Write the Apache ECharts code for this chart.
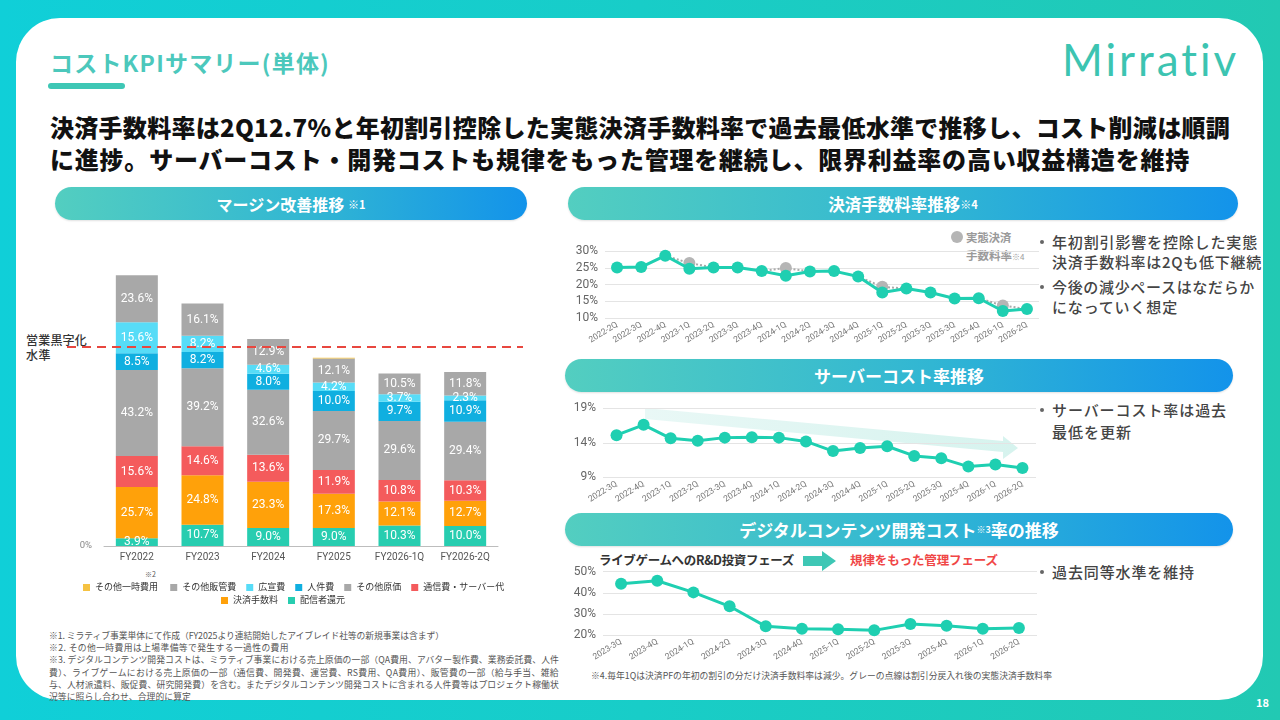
<!DOCTYPE html>
<html><head><meta charset="utf-8">
<script src="https://cdn.jsdelivr.net/npm/echarts@6/dist/echarts.min.js"></script>
<style>
html,body{margin:0;padding:0;width:1280px;height:720px;overflow:hidden;}
body{position:relative;background:linear-gradient(90deg,#10cfd8 0%,#18cdc8 50%,#22c9b3 100%);font-family:"Noto Sans CJK JP","Noto Sans",sans-serif;}
#card{position:absolute;left:16px;top:18px;width:1247px;height:682px;background:#fff;border-radius:44px;}
.t{position:absolute;white-space:nowrap;}
.banner{position:absolute;height:33px;border-radius:17px;background:linear-gradient(90deg,#53cec0 0%,#31b6d3 55%,#1393ea 100%);color:#fff;font-weight:700;display:flex;align-items:center;justify-content:center;box-shadow:0 1px 2px rgba(0,0,0,0.12);white-space:nowrap;}
.banner small{font-size:11px;font-weight:700;}
.dot{position:absolute;width:4px;height:4px;border-radius:2px;background:#666;}
#chart{position:absolute;left:0;top:0;width:1280px;height:720px;z-index:5;}
</style>
</head>
<body>
<div id="card"></div>
<div id="ul" style="position:absolute;left:48px;top:83px;width:77px;height:6px;border-radius:3px;background:#3ec7b5;"></div>

<div class="banner" style="left:55px;top:187px;width:472px;font-size:16px;">マージン改善推移&nbsp;<small>※1</small></div>
<div class="banner" style="left:568px;top:187px;width:670px;font-size:16.5px;">決済手数料率推移<small>※4</small></div>
<div class="banner" style="left:565px;top:359px;width:668px;font-size:17px;">サーバーコスト率推移</div>
<div class="banner" style="left:565px;top:513px;width:668px;font-size:17px;">デジタルコンテンツ開発コスト<small style="font-size:9px;">※3</small>率の推移</div>

<svg style="position:absolute;left:0;top:0;" width="1280" height="720">
  <defs><linearGradient id="ag" x1="0" x2="1" y1="0" y2="0"><stop offset="0" stop-color="#e9f8f6"/><stop offset="1" stop-color="#d6f3ee"/></linearGradient></defs>
  <polygon points="645,408 1003,441 1003,436 1018,448 1003,459 1003,452 645,419" fill="url(#ag)"/>
  <polygon points="803,556 822,556 822,551 836,561 822,571 822,566 803,566" fill="#3ec7b5"/>
</svg>
<div style="position:absolute;left:951px;top:231px;width:12px;height:12px;border-radius:6px;background:#b5b5b5;"></div>

<div id="chart"></div>

<script>
// ---------- data ----------
const barCategories = ['FY2022','FY2023','FY2024','FY2025','FY2026-1Q','FY2026-2Q'];
const haishinKangen = [3.9,10.7,9.0,9.0,10.3,10.0];      // 配信者還元
const kessaiTesuryo = [25.7,24.8,23.3,17.3,12.1,12.7];   // 決済手数料
const tsushinServer = [15.6,14.6,13.6,11.9,10.8,10.3];   // 通信費・サーバー代
const sonotaGenka   = [43.2,39.2,32.6,29.7,29.6,29.4];   // その他原価
const jinkenhi      = [8.5,8.2,8.0,10.0,9.7,10.9];       // 人件費
const kosenhi       = [15.6,8.2,4.6,4.2,3.7,2.3];        // 広宣費
const sonotaHankan  = [23.6,16.1,12.9,12.1,10.5,11.8];   // その他販管費
const sonotaIchiji  = [0,0,0,0.4,0,0];                   // その他一時費用
const breakEvenLevel = 100;                              // 営業黒字化水準

const feeCategories = ['2022-2Q','2022-3Q','2022-4Q','2023-1Q','2023-2Q','2023-3Q','2023-4Q','2024-1Q','2024-2Q','2024-3Q','2024-4Q','2025-1Q','2025-2Q','2025-3Q','2025-3Q','2025-4Q','2026-1Q','2026-2Q'];
const feeRate = [25.1,25.2,28.6,24.7,25.1,25.1,24.0,22.6,23.9,24.0,22.4,17.6,18.8,17.6,15.8,15.9,12.1,12.7];
const feeRateAdjusted = [null,null,28.6,26.4,25.1,null,24.0,24.9,23.9,null,22.4,19.3,18.8,null,null,15.9,13.7,12.7];

const serverCategories = ['2022-3Q','2022-4Q','2023-1Q','2023-2Q','2023-3Q','2023-4Q','2024-1Q','2024-2Q','2024-3Q','2024-4Q','2025-1Q','2025-2Q','2025-3Q','2025-4Q','2026-1Q','2026-2Q'];
const serverRate = [15.1,16.6,14.65,14.3,14.75,14.8,14.75,14.2,12.8,13.25,13.5,12.1,11.75,10.55,10.85,10.35];

const devCategories = ['2023-3Q','2023-4Q','2024-1Q','2024-2Q','2024-3Q','2024-4Q','2025-1Q','2025-2Q','2025-3Q','2025-4Q','2026-1Q','2026-2Q'];
const devRate = [44.3,45.7,40.2,33.6,24.1,23.0,22.7,22.2,25.2,24.4,23.0,23.3];

// ---------- static texts ----------
function addText(txt, x, cy, size, color, weight, fitW, extra){
  const d = document.createElement('div');
  d.className = 't';
  d.style.left = x + 'px';
  d.style.fontSize = size + 'px';
  d.style.lineHeight = Math.round(size*1.3) + 'px';
  d.style.top = (cy - Math.round(size*1.3)/2) + 'px';
  d.style.color = color;
  d.style.fontWeight = weight;
  if (extra) Object.assign(d.style, extra);
  d.innerHTML = txt;
  document.body.appendChild(d);
  if (fitW){
    const w = d.getBoundingClientRect().width;
    const n = d.textContent.length;
    d.style.letterSpacing = ((fitW - w)/n) + 'px';
  }
  return d;
}
addText('コストKPIサマリー(単体)', 50, 62, 23, '#4cc8bc', 700, 280);
addText('Mirrativ', 1062, 59, 44, '#3cc4b1', 400, 178, {fontFamily:'Lato, "Open Sans", sans-serif'});
addText('決済手数料率は2Q12.7%と年初割引控除した実態決済手数料率で過去最低水準で推移し、コスト削減は順調', 50, 126, 24, '#111', 900, 1180);
addText('に進捗。サーバーコスト・開発コストも規律をもった管理を継続し、限界利益率の高い収益構造を維持', 50, 158, 24, '#111', 900, 1140);

addText('営業黒字化', 26, 340, 12, '#333', 500, 61);
addText('水準', 26, 355, 12, '#333', 500, 25);
addText('※2', 145, 574, 7, '#555', 400);

const foot = [
 ['※1. ミラティブ事業単体にて作成（FY2025より連結開始したアイブレイド社等の新規事業は含まず）', 395],
 ['※2. その他一時費用は上場準備等で発生する一過性の費用', 240],
 ['※3. デジタルコンテンツ開発コストは、ミラティブ事業における売上原価の一部（QA費用、アバター製作費、業務委託費、人件', 510],
 ['費）、ライブゲームにおける売上原価の一部（通信費、開発費、運営費、RS費用、QA費用）、販管費の一部（給与手当、雑給', 510],
 ['与、人材派遣料、販促費、研究開発費）を含む。またデジタルコンテンツ開発コストに含まれる人件費等はプロジェクト稼働状', 510],
 ['況等に照らし合わせ、合理的に算定', 142]
];
foot.forEach((f,i)=> addText(f[0], 49, 635 + i*12.35, 8.8, '#555', 400, f[1]));
addText('※4.毎年1Qは決済PFの年初の割引の分だけ決済手数料率は減少。グレーの点線は割引分戻入れ後の実態決済手数料率', 591, 675, 8.8, '#555', 400, 461);

addText('実態決済', 966, 237, 11.5, '#9a9a9a', 700, 45);
addText('手数料率<span style="font-size:8px;font-weight:400">※4</span>', 966, 255, 11.5, '#9a9a9a', 700);

addText('ライブゲームへのR&amp;D投資フェーズ', 599, 560, 12.5, '#333', 700, 195);
addText('規律をもった管理フェーズ', 850, 560, 12.5, '#f04646', 700, 148);

const bullets = [
 ['年初割引影響を控除した実態', 242, 206, true],
 ['決済手数料率は2Qも低下継続', 262, 210, false],
 ['今後の減少ペースはなだらか', 287, 203, true],
 ['になっていく想定', 307, 126, false],
 ['サーバーコスト率は過去', 410, 175, true],
 ['最低を更新', 432, 80, false],
 ['過去同等水準を維持', 572, 143, true]
];
bullets.forEach(b=>{
  addText(b[0], 1052, b[1], 15, '#444', 500, b[2]);
  if (b[3]){ const d=document.createElement('div'); d.className='dot'; d.style.left='1040px'; d.style.top=(b[1]-2)+'px'; document.body.appendChild(d); }
});
addText('18', 1256, 702, 11, '#fff', 700);

// ---------- chart ----------
const chart = echarts.init(document.getElementById('chart'), null, {renderer:'canvas'});
const FONT = 'Roboto, "Noto Sans CJK JP", sans-serif';
const green = '#1fcfb1';

const barDefs = [
 ['配信者還元', haishinKangen, '#27cdb0'],
 ['決済手数料', kessaiTesuryo, '#ffa10a'],
 ['通信費・サーバー代', tsushinServer, '#f45b5c'],
 ['その他原価', sonotaGenka, '#a8a8a8'],
 ['人件費', jinkenhi, '#10afe0'],
 ['広宣費', kosenhi, '#57dcf7'],
 ['その他販管費', sonotaHankan, '#a8a8a8'],
 ['その他一時費用', sonotaIchiji, '#f5c242']
];
const barSeries = barDefs.map(d=>({
  name:d[0], type:'bar', stack:'cost', xAxisIndex:0, yAxisIndex:0, barWidth:42,
  data:d[1], itemStyle:{color:d[2]},
  label:{show:true, position:'inside', color:'#fff', fontSize:12, fontFamily:FONT,
         formatter:p=> p.value>=1 ? p.value.toFixed(1)+'%' : ''},
  emphasis:{disabled:true}
}));

function catAxis(gi, data, rot){
  return {type:'category', gridIndex:gi, data:data, boundaryGap:true,
    axisLine:{show:false}, axisTick:{show:false},
    axisLabel:{interval:0, rotate:rot, fontSize:8.5, color:'#777', margin:6, fontFamily:FONT, hideOverlap:false}};
}
function valAxis(gi, min, max, interval){
  return {type:'value', gridIndex:gi, min:min, max:max, interval:interval,
    axisLine:{show:false}, axisTick:{show:false},
    axisLabel:{formatter:'{value}%', fontSize:12, color:'#666', margin:7, fontFamily:FONT},
    splitLine:{lineStyle:{color:'#e4e4e4', width:1}}};
}
function lineSeries(xi, data, size){
  return {type:'line', xAxisIndex:xi, yAxisIndex:xi, data:data, symbol:'circle', symbolSize:size,
    itemStyle:{color:green}, lineStyle:{color:green, width:3}, z:4, emphasis:{disabled:true}};
}

const adjData = feeRateAdjusted.map((v,i)=> v==null ? '-' : {value:v, symbolSize: feeCategories[i].endsWith('1Q') ? 12 : 0});

const option = {
  animation:false,
  backgroundColor:'transparent',
  textStyle:{fontFamily:FONT},
  grid:[
    {left:104, right:782, top:267.4, bottom:174, outerBoundsMode:'none'},
    {left:67, right:757, top:267.4, bottom:174, outerBoundsMode:'none'},
    {left:605, right:241, top:251, bottom:402, outerBoundsMode:'none'},
    {left:603, right:244, top:408.3, bottom:242.7, outerBoundsMode:'none'},
    {left:603, right:243, top:571.7, bottom:85, outerBoundsMode:'none'}
  ],
  legend:[
    {data:['その他一時費用','その他販管費','広宣費','人件費','その他原価','通信費・サーバー代'],
     left:78, top:578, itemWidth:7, itemHeight:7, itemGap:10, icon:'rect',
     formatter:n=> n==='その他一時費用' ? '{n|'+n+'}{sp| }' : n,
     textStyle:{fontSize:9, color:'#333', fontFamily:FONT, rich:{n:{fontSize:9,color:'#333'}, sp:{width:11}}},
     selectedMode:false},
    {data:['決済手数料','配信者還元'],
     left:216, top:591, itemWidth:7, itemHeight:7, itemGap:10, icon:'rect',
     textStyle:{fontSize:9, color:'#333', fontFamily:FONT}, selectedMode:false}
  ],
  xAxis:[
    {type:'category', gridIndex:0, data:barCategories, axisTick:{show:false},
     axisLine:{lineStyle:{color:'#bdbdbd'}}, axisLabel:{fontSize:10, color:'#555', margin:6, fontFamily:FONT}},
    {type:'value', gridIndex:1, min:0, max:1, show:false},
    catAxis(2, feeCategories, 32),
    catAxis(3, serverCategories, 32),
    catAxis(4, devCategories, 32)
  ],
  yAxis:[
    {type:'value', gridIndex:0, min:0, max:140, interval:140, axisLine:{show:false}, axisTick:{show:false},
     splitLine:{show:false}, axisLabel:{formatter:v=> v===0 ? '0%' : '', fontSize:9.5, color:'#888', margin:12}},
    {type:'value', gridIndex:1, min:0, max:140, show:false},
    valAxis(2, 10, 30, 5),
    valAxis(3, 9, 19, 5),
    valAxis(4, 20, 50, 10)
  ],
  series:[
    ...barSeries,
    {name:'営業黒字化水準', type:'line', xAxisIndex:1, yAxisIndex:1, data:[[0,breakEvenLevel],[1,breakEvenLevel]],
     symbol:'none', lineStyle:{color:'#e8473f', width:2, type:[9,6]}, z:10, silent:true},
    {name:'実態決済手数料率', type:'line', xAxisIndex:2, yAxisIndex:2, data:adjData, symbol:'circle', symbolSize:12,
     connectNulls:false, itemStyle:{color:'#b5b5b5'}, lineStyle:{color:'#aaaaaa', width:2, type:'dotted'}, z:2, emphasis:{disabled:true}},
    lineSeries(2, feeRate, 12),
    lineSeries(3, serverRate, 12),
    lineSeries(4, devRate, 12)
  ]
};
chart.setOption(option);
</script>
</body></html>
